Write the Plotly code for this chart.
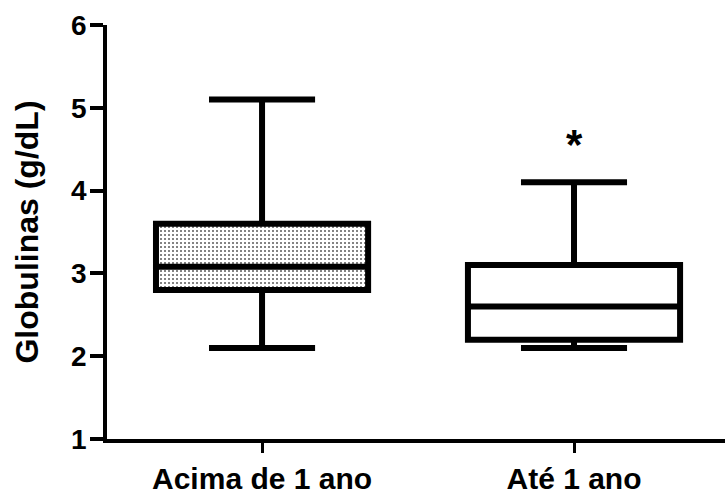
import plotly.graph_objects as go

# Globulin summary statistics per age group (g/dL)
groups = ["Acima de 1 ano", "Até 1 ano"]
lower_whisker = [2.1, 2.1]
q1 = [2.8, 2.2]
median = [3.08, 2.6]
q3 = [3.6, 3.1]
upper_whisker = [5.1, 4.1]
dotted_fill = [True, False]
signif_marks = ["", "*"]
signif_y = [None, 4.56]

y_ticks = [1, 2, 3, 4, 5, 6]

box_width = 0.68
font_family = "Liberation Sans, Arial, sans-serif"
positions = list(range(len(groups)))

fig = go.Figure()

# stippled fill for the interquartile range (bars sit under the box layer)
stip_x = [i for i in positions if dotted_fill[i]]
fig.add_trace(go.Bar(
    x=stip_x,
    base=[q1[i] for i in stip_x],
    y=[q3[i] - q1[i] for i in stip_x],
    width=box_width,
    marker=dict(
        color="white",
        line=dict(width=0),
        pattern=dict(shape=".", size=4, solidity=0.2,
                     fgcolor="#5a5a5a", bgcolor="white", fillmode="replace"),
    ),
    hoverinfo="skip",
    showlegend=False,
))

fig.add_trace(go.Box(
    x=positions,
    q1=q1, median=median, q3=q3,
    lowerfence=lower_whisker, upperfence=upper_whisker,
    boxpoints=False,
    width=box_width,
    whiskerwidth=0.5,
    line=dict(color="black", width=6),
    fillcolor="rgba(0,0,0,0)",
    showlegend=False,
))

for i in positions:
    if signif_marks[i]:
        fig.add_annotation(
            x=i, y=signif_y[i], text=signif_marks[i], showarrow=False,
            yanchor="middle",
            font=dict(family=font_family, size=42, color="black", weight="bold"),
        )

fig.update_layout(
    width=725, height=495,
    margin=dict(l=107, r=0, t=25, b=51),
    paper_bgcolor="white",
    plot_bgcolor="white",
    font=dict(family=font_family, color="black"),
    boxmode="overlay",
    barmode="overlay",
    xaxis=dict(
        range=[-0.497, 1.484],
        tickvals=positions, ticktext=groups,
        showgrid=False, zeroline=False,
        showline=True, linecolor="black", linewidth=4,
        ticks="outside", ticklen=10, tickwidth=3, tickcolor="black",
        tickfont=dict(family=font_family, size=30, weight="bold"),
    ),
    yaxis=dict(
        range=[1, 6],
        tickvals=y_ticks,
        showgrid=False, zeroline=False,
        showline=True, linecolor="black", linewidth=3.5,
        ticks="outside", ticklen=13, tickwidth=3.5, tickcolor="black",
        ticklabelstandoff=-2,
        tickfont=dict(family=font_family, size=28, weight="bold"),
        title=dict(text="Globulinas (g/dL)", standoff=24,
                   font=dict(family=font_family, size=32, weight="bold")),
    ),
)

fig.write_html("out.html")
